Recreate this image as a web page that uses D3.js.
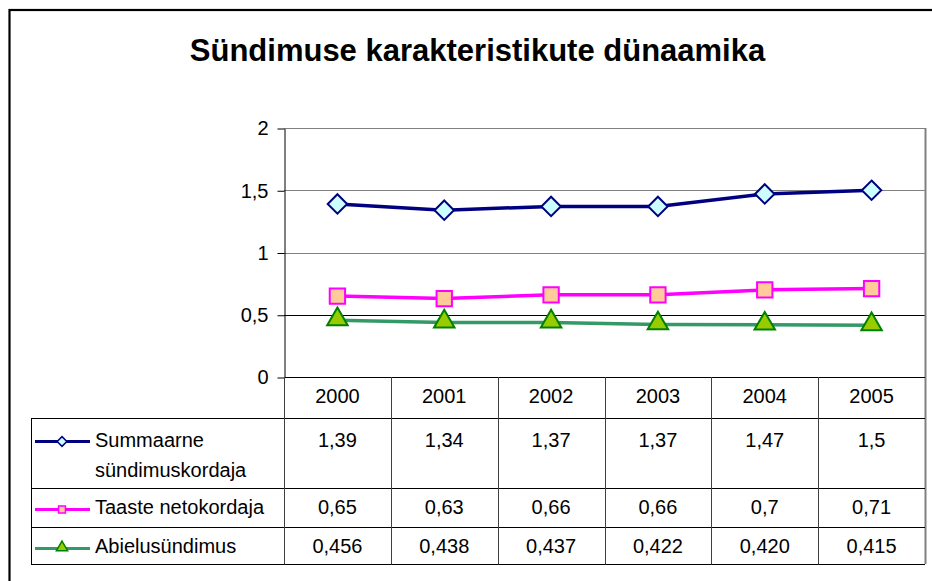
<!DOCTYPE html>
<html>
<head>
<meta charset="utf-8">
<script src="https://cdn.jsdelivr.net/npm/d3@7"></script>
<style>
  html, body { margin: 0; padding: 0; background: #fff; }
  svg { display: block; font-family: "Liberation Sans", Arial, sans-serif; }
</style>
</head>
<body>
<svg id="chart" width="932" height="581"></svg>
<script>
const title = "Sündimuse karakteristikute dünaamika";
const years = ["2000", "2001", "2002", "2003", "2004", "2005"];
const yTicks = [0, 0.5, 1, 1.5, 2];
const seriesNames = [["Summaarne", "sündimuskordaja"], ["Taaste netokordaja"], ["Abielusündimus"]];
const summaarne = [1.39, 1.34, 1.37, 1.37, 1.47, 1.5];
const taaste = [0.65, 0.63, 0.66, 0.66, 0.7, 0.71];
const abielu = [0.456, 0.438, 0.437, 0.422, 0.420, 0.415];
const summaarneLabels = ["1,39", "1,34", "1,37", "1,37", "1,47", "1,5"];
const taasteLabels = ["0,65", "0,63", "0,66", "0,66", "0,7", "0,71"];
const abieluLabels = ["0,456", "0,438", "0,437", "0,422", "0,420", "0,415"];

const series = [
  { name: seriesNames[0], values: summaarne, labels: summaarneLabels, line: "#000080", fill: "#CCFFFF", stroke: "#000080", symbol: d3.symbolDiamond2 },
  { name: seriesNames[1], values: taaste, labels: taasteLabels, line: "#FF00FF", fill: "#FFCC99", stroke: "#FF00FF", symbol: d3.symbolSquare2 },
  { name: seriesNames[2], values: abielu, labels: abieluLabels, line: "#339966", fill: "#99CC00", stroke: "#008000", symbol: d3.symbolTriangle2 }
];

const svg = d3.select("#chart");

// outer frame (extends beyond picture right/bottom)
svg.append("rect").attr("x", 9.5).attr("y", 10).attr("width", 940).attr("height", 600)
  .attr("fill", "none").attr("stroke", "#000").attr("stroke-width", 2.2);

// title
svg.append("text").attr("x", 477.5).attr("y", 61).attr("text-anchor", "middle")
  .attr("font-size", 31).attr("font-weight", "bold").attr("fill", "#000").text(title);

const plotL = 284, plotR = 925, plotT = 128, plotB = 377;
const x = d3.scaleBand().domain(years).range([plotL, plotR]).padding(0);
const y = d3.scaleLinear().domain([0, 2]).range([plotB, plotT]);

// gridlines
svg.append("g").selectAll("line").data(yTicks.filter(d => d > 0)).join("line")
  .attr("x1", plotL).attr("x2", plotR)
  .attr("y1", d => Math.round(y(d)) + 0.5).attr("y2", d => Math.round(y(d)) + 0.5)
  .attr("stroke", d => d === 0.5 ? "#000" : "#808080").attr("stroke-width", 1);

// right plot border
svg.append("line").attr("x1", plotR + 0.5).attr("x2", plotR + 0.5).attr("y1", plotT).attr("y2", 564)
  .attr("stroke", "#808080").attr("stroke-width", 2);

// y axis
const yAxis = d3.axisLeft(y).tickValues(yTicks).tickSize(7).tickSizeOuter(0).tickPadding(9)
  .tickFormat(d => String(d).replace(".", ","));
const gy = svg.append("g").attr("transform", `translate(${plotL + 0.5},0.5)`).call(yAxis);
gy.select(".domain").attr("stroke", "#000");
gy.selectAll(".tick line").attr("stroke", "#000");
gy.selectAll(".tick text").attr("font-size", 20).attr("fill", "#000")
  .attr("font-family", "Liberation Sans, Arial, sans-serif");

// x baseline
svg.append("line").attr("x1", plotL).attr("x2", plotR).attr("y1", plotB + 0.5).attr("y2", plotB + 0.5)
  .attr("stroke", "#000");

// table
const rowEdges = [377, 418, 488, 527, 564];
const tableL = 31;
const tbl = svg.append("g");
tbl.selectAll("line.h").data(rowEdges.slice(1)).join("line").attr("class", "h")
  .attr("x1", tableL).attr("x2", plotR)
  .attr("y1", d => d + 0.5).attr("y2", d => d + 0.5).attr("stroke", "#000");
tbl.append("line").attr("x1", tableL + 0.5).attr("x2", tableL + 0.5).attr("y1", 418).attr("y2", 564.5).attr("stroke", "#000");
const colEdges = years.map(d => x(d));
tbl.selectAll("line.v").data(colEdges).join("line").attr("class", "v")
  .attr("x1", d => Math.round(d) + 0.5).attr("x2", d => Math.round(d) + 0.5)
  .attr("y1", 377).attr("y2", 564.5)
  .attr("stroke", "#404040");

tbl.selectAll("text.yr").data(years).join("text").attr("class", "yr")
  .attr("x", d => x(d) + x.bandwidth() / 2).attr("y", 403)
  .attr("text-anchor", "middle").attr("font-size", 20).attr("fill", "#000").text(d => d);

const valueBaselines = [447, 514, 553];
const keyY = [441.5, 509.5, 548.5];
series.forEach((s, si) => {
  tbl.selectAll(null).data(s.labels).join("text")
    .attr("x", (d, i) => x(years[i]) + x.bandwidth() / 2).attr("y", valueBaselines[si])
    .attr("text-anchor", "middle").attr("font-size", 20).attr("fill", "#000").text(d => d);
  s.name.forEach((t, li) => {
    tbl.append("text").attr("x", 95).attr("y", valueBaselines[si] + li * 30)
      .attr("font-size", 20).attr("fill", "#000").text(t);
  });
  tbl.append("line").attr("x1", 35).attr("x2", 90).attr("y1", keyY[si]).attr("y2", keyY[si])
    .attr("stroke", s.line).attr("stroke-width", 3);
  tbl.append("path").attr("transform", `translate(62,${keyY[si] + (si === 2 ? -1 : 0)})`)
    .attr("d", d3.symbol().type(s.symbol).size(si === 2 ? 90 : 60)())
    .attr("fill", s.fill).attr("stroke", s.stroke).attr("stroke-width", 1.5);
});

const cx = d => x(d) + x.bandwidth() / 2;
const lineGen = d3.line().x(d => cx(d.year)).y(d => y(d.value));
const markerSize = [240, 300, 300];
series.forEach((s, si) => {
  const pts = s.values.map((v, i) => ({ year: years[i], value: v }));
  svg.append("path").datum(pts).attr("d", lineGen).attr("fill", "none")
    .attr("stroke", s.line).attr("stroke-width", 3.5).attr("stroke-linejoin", "round");
  svg.append("g").selectAll("path").data(pts).join("path")
    .attr("transform", d => `translate(${cx(d.year)},${y(d.value) - (si === 2 ? 1 : 0)})`)
    .attr("d", d3.symbol().type(s.symbol).size(markerSize[si])())
    .attr("fill", s.fill).attr("stroke", s.stroke).attr("stroke-width", 2);
});
</script>
</body>
</html>
